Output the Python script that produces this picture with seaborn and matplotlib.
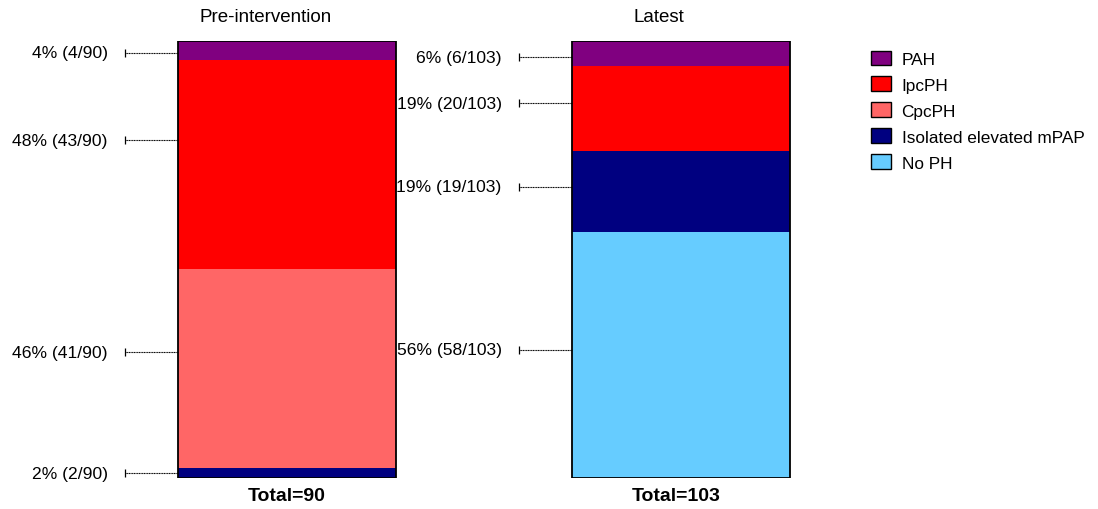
import numpy as np
import pandas as pd
import matplotlib
matplotlib.use("Agg")
import matplotlib.pyplot as plt
import seaborn as sns
from matplotlib.patches import Patch

groups = ["Pre-intervention", "Latest"]
totals = [90, 103]
# stacking order, bottom to top
categories = ["No PH", "Isolated elevated mPAP", "CpcPH", "IpcPH", "PAH"]
pre_counts = [0, 2, 41, 43, 4]
latest_counts = [58, 19, 0, 20, 6]
# percentages as printed on the chart
pre_pct_text = [0, 2, 46, 48, 4]
latest_pct_text = [56, 19, 0, 19, 6]
colors = {
    "PAH": "#800080",
    "IpcPH": "#FF0000",
    "CpcPH": "#FF6666",
    "Isolated elevated mPAP": "#000080",
    "No PH": "#66CCFF",
}
legend_order = ["PAH", "IpcPH", "CpcPH", "Isolated elevated mPAP", "No PH"]

# label heights (percent of bar) as placed in the original
pre_label_pos = {"PAH": 97.3, "IpcPH": 77.3, "CpcPH": 28.8, "Isolated elevated mPAP": 1.1}
latest_label_pos = {"PAH": 96.3, "IpcPH": 85.8, "Isolated elevated mPAP": 66.6, "No PH": 29.3}

sns.set_style("white")
plt.rcParams["font.family"] = ["Liberation Sans", "DejaVu Sans"]
plt.rcParams["text.color"] = "black"

rows = []
for g, tot, counts, ptxt in zip(groups, totals, [pre_counts, latest_counts],
                                [pre_pct_text, latest_pct_text]):
    pct = np.array(counts) / tot * 100
    cum = np.cumsum(pct)
    for cat, c, p, top, t in zip(categories, counts, pct, cum, ptxt):
        rows.append({"group": g, "category": cat, "count": c, "pct": p, "top": top, "ptxt": t})
df = pd.DataFrame(rows)

fig = plt.figure(figsize=(10.98, 5.10), dpi=100)
ax = fig.add_axes([0, 31 / 510, 1, 437 / 510])

bar_w = 0.553
# draw cumulative tops from the top segment down so lower ones overlay
for cat in categories[::-1]:
    sub = df[df["category"] == cat]
    sns.barplot(data=sub, x="group", y="top", order=groups, color=colors[cat],
                width=bar_w, linewidth=0, edgecolor="none", saturation=1, ax=ax)
outline = pd.DataFrame({"group": groups, "top": [100, 100]})
sns.barplot(data=outline, x="group", y="top", order=groups, fill=False,
            edgecolor="black", linewidth=1.3, width=bar_w, ax=ax)

ax.set_xlim(-287 / 394, (1098 - 287) / 394)
ax.set_ylim(0, 100)
ax.set_axis_off()

for i, (g, tot, pos) in enumerate(zip(groups, totals, [pre_label_pos, latest_label_pos])):
    sub = df[df["group"] == g].set_index("category")
    left = i - bar_w / 2
    tick_x = i - 0.411
    for cat, y in pos.items():
        c = int(sub.loc[cat, "count"])
        t = int(sub.loc[cat, "ptxt"])
        ax.plot([tick_x, left], [y, y], color="black", lw=0.8, ls=(0, (1, 0.5)))
        ax.plot([tick_x], [y], marker="|", color="black", markersize=6, mew=0.9)
        ax.text(i - 0.455, y, f"{t}% ({c}/{tot})", ha="right", va="center",
                fontsize=12.6, color="black")
    ax.text(i - 0.055, 105.5, g, ha="center", va="center", fontsize=13.5,
            color="black", clip_on=False)
    ax.text(i - 0.012 * i, -4, f"Total={tot}", ha="center", va="center", fontsize=14,
            fontweight="bold", color="black", clip_on=False)

handles = [Patch(facecolor=colors[c], edgecolor="black", linewidth=1) for c in legend_order]
leg = fig.legend(handles, legend_order, loc="upper left",
                 bbox_to_anchor=(855 / 1098, 1 - 36 / 510),
                 frameon=False, fontsize=12.4, handlelength=1.2, handleheight=0.95,
                 labelspacing=0.56, handletextpad=0.6)
for txt in leg.get_texts():
    txt.set_color("black")

fig.savefig("out.png", dpi=100)
